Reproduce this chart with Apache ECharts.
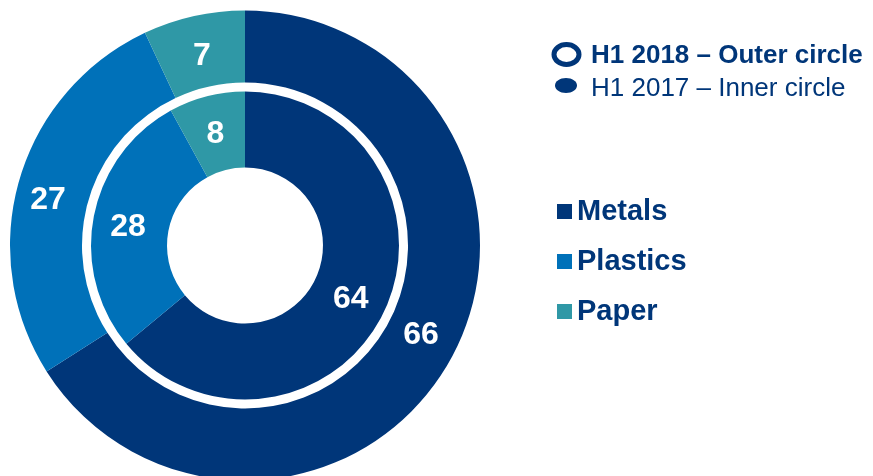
<!DOCTYPE html>
<html>
<head>
<meta charset="utf-8">
<script src="https://cdn.jsdelivr.net/npm/echarts@6/dist/echarts.min.js"></script>
<style>
  html, body { margin: 0; padding: 0; background: #fff; }
  #chart { width: 873px; height: 476px; }
</style>
</head>
<body>
<div id="chart"></div>
<script>
// categories and values (percent)
var categories = ["Metals", "Plastics", "Paper"];
var outer2018 = [66, 27, 7];
var inner2017 = [64, 28, 8];
var periodLabels = ["H1 2018 \u2013 Outer circle", "H1 2017 \u2013 Inner circle"];

var colorList = ["#003679", "#0071b9", "#2f98a6"];
var navy = "#003679";
var font = "Liberation Sans, Arial, sans-serif";

// small nudges so the value labels sit where the original ones do
var outerNudge = [[-1, -8], [-3, 11], [1, 8]];
var innerNudge = [[-2, 3], [0, 4], [0, 4]];

function toData(values, nudge) {
  return categories.map(function (name, i) {
    return {
      name: name,
      value: values[i],
      itemStyle: { color: colorList[i] },
      label: { offset: nudge[i] }
    };
  });
}

var myChart = echarts.init(document.getElementById("chart"));

var pieLabel = {
  show: true,
  position: "inside",
  formatter: "{c}",
  color: "#fff",
  fontSize: 32,
  fontWeight: "bold",
  fontFamily: font
};

var option = {
  backgroundColor: "#fff",
  animation: false,
  legend: {
    orient: "vertical",
    left: 552,
    top: 192,
    itemWidth: 15,
    itemHeight: 15,
    itemGap: 21,
    icon: "rect",
    selectedMode: false,
    data: categories,
    textStyle: {
      color: navy,
      fontSize: 29,
      fontWeight: "bold",
      fontFamily: font
    }
  },
  graphic: [
    {
      type: "ellipse",
      shape: { cx: 566.5, cy: 54.5, rx: 12.5, ry: 10 },
      style: { fill: "none", stroke: navy, lineWidth: 5 }
    },
    {
      type: "ellipse",
      shape: { cx: 566, cy: 85.5, rx: 11, ry: 7.5 },
      style: { fill: navy }
    },
    {
      type: "text",
      x: 591,
      y: 55.5,
      style: {
        text: periodLabels[0],
        fill: navy,
        font: "bold 26px " + font,
        verticalAlign: "middle"
      }
    },
    {
      type: "text",
      x: 591,
      y: 89,
      style: {
        text: periodLabels[1],
        fill: navy,
        font: "26px " + font,
        verticalAlign: "middle"
      }
    }
  ],
  series: [
    {
      name: periodLabels[0],
      type: "pie",
      center: [245, 245.5],
      radius: [163, 235],
      startAngle: 90,
      clockwise: true,
      avoidLabelOverlap: false,
      label: pieLabel,
      labelLine: { show: false },
      itemStyle: { borderWidth: 0 },
      emphasis: { disabled: true },
      data: toData(outer2018, outerNudge)
    },
    {
      name: periodLabels[1],
      type: "pie",
      center: [245, 245.5],
      radius: [78, 154],
      startAngle: 90,
      clockwise: true,
      avoidLabelOverlap: false,
      label: pieLabel,
      labelLine: { show: false },
      itemStyle: { borderWidth: 0 },
      emphasis: { disabled: true },
      data: toData(inner2017, innerNudge)
    }
  ]
};

myChart.setOption(option);
</script>
</body>
</html>
